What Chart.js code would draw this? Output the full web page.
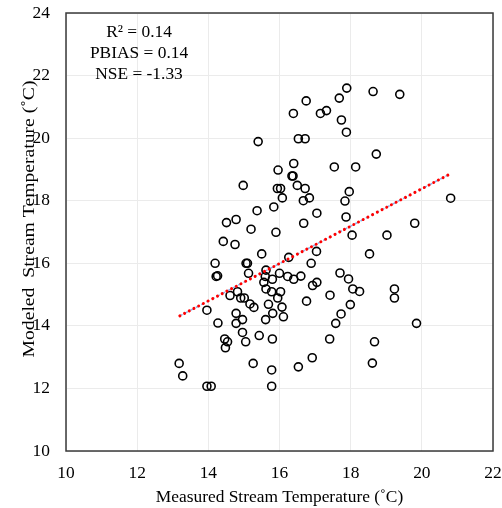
<!DOCTYPE html>
<html>
<head>
<meta charset="utf-8">
<script src="https://cdn.jsdelivr.net/npm/chart.js@4.4.1/dist/chart.umd.min.js"></script>
<style>
  html, body { margin: 0; padding: 0; background: #fff; }
  #wrap { width: 502px; height: 508px; }
</style>
</head>
<body>
<div id="wrap"><canvas id="chart" width="502" height="508"></canvas></div>
<script>
// measured vs modeled stream temperature (deg C)
const measured = [
  13.18, 13.28, 13.96, 14.08, 15.78, 15.78, 15.26, 16.53, 16.92, 17.41,
  17.58, 17.73, 17.99, 17.42, 18.61, 18.67, 19.85, 19.23, 19.23, 13.96,
  14.27, 14.46, 14.54, 14.48, 14.78, 14.78, 14.96, 14.96, 15.05, 15.43,
  15.80, 15.61, 15.81, 16.11, 16.07, 15.69, 15.17, 15.28, 14.61, 14.82,
  14.91, 15.01, 15.95, 16.76, 15.78, 16.03, 15.62, 15.56, 15.80, 15.60,
  15.62, 16.00, 16.23, 16.40, 16.60, 16.93, 17.05, 17.70, 17.94, 18.06,
  18.25, 14.19, 14.22, 14.26, 15.06, 15.10, 15.13, 15.50, 16.26, 16.89,
  17.04, 18.53, 18.04, 19.02, 19.80, 14.42, 14.75, 14.51, 14.78, 15.20,
  15.37, 15.90, 16.68, 17.05, 17.87, 17.84, 15.84, 16.08, 15.94, 16.03,
  14.98, 16.50, 16.72, 16.67, 16.84, 17.96, 15.96, 16.35, 16.38, 16.40,
  17.54, 18.14, 18.72, 15.40, 16.53, 16.72, 17.88, 17.74, 16.39, 17.15,
  17.32, 16.75, 17.68, 17.89, 18.63, 19.38, 20.81
];
const modeled = [
  12.80, 12.40, 12.07, 12.07, 12.07, 12.59, 12.80, 12.69, 12.98, 13.58,
  14.08, 14.38, 14.68, 14.98, 12.81, 13.49, 14.08, 15.18, 14.89, 14.50,
  14.09, 13.58, 13.49, 13.30, 14.40, 14.08, 14.20, 13.79, 13.49, 13.69,
  13.58, 14.20, 14.40, 14.29, 14.60, 14.69, 14.70, 14.59, 14.97, 15.09,
  14.89, 14.89, 14.89, 14.79, 15.09, 15.09, 15.18, 15.39, 15.49, 15.58,
  15.78, 15.68, 15.58, 15.49, 15.59, 15.29, 15.39, 15.69, 15.50, 15.18,
  15.10, 16.00, 15.58, 15.60, 16.00, 16.00, 15.68, 16.30, 16.19, 16.00,
  16.38, 16.30, 16.90, 16.90, 17.28, 16.70, 16.60, 17.30, 17.40, 17.09,
  17.68, 16.99, 17.28, 17.60, 17.48, 17.99, 17.80, 18.09, 18.39, 18.39,
  18.49, 18.49, 18.39, 18.00, 18.09, 18.29, 18.98, 18.79, 18.79, 19.19,
  19.08, 19.08, 19.49, 19.89, 19.98, 19.98, 20.19, 20.58, 20.79, 20.79,
  20.88, 21.19, 21.28, 21.60, 21.49, 21.40, 18.08
];
// linear fit line end points
const trendX = [13.2, 20.8];
const trendY = [14.32, 18.86];

const xTicks = [10, 12, 14, 16, 18, 20, 22];
const yTicks = [10, 12, 14, 16, 18, 20, 22, 24];

const statLines = ["R\u00B2 = 0.14", "PBIAS = 0.14", "NSE = -1.33"];
const xTitle = "Measured Stream Temperature (\u02DAC)";
const yTitle = "Modeled  Stream Temperature (\u02DAC)";

const serif = '"Liberation Serif", "Times New Roman", serif';
const fontSize = 17.4;

const points = measured.map((x, i) => ({ x: x, y: modeled[i] }));
const trend = trendX.map((x, i) => ({ x: x, y: trendY[i] }));

const extras = {
  id: "extras",
  afterDraw(chart) {
    const { ctx, chartArea: a } = chart;
    ctx.save();
    // frame
    ctx.strokeStyle = "#3a3a3a";
    ctx.lineWidth = 1.5;
    ctx.strokeRect(a.left, a.top, a.right - a.left, a.bottom - a.top);
    // stats text
    ctx.fillStyle = "#000";
    ctx.font = fontSize + "px " + serif;
    ctx.textAlign = "center";
    ctx.textBaseline = "alphabetic";
    statLines.forEach((t, i) => ctx.fillText(t, 139, 37 + i * 21));
    // y title (source image is a bit stretched vertically)
    ctx.translate(29, 219);
    ctx.rotate(-Math.PI / 2);
    ctx.scale(1.13, 1);
    ctx.textBaseline = "middle";
    ctx.fillText(yTitle, 0, 0);
    ctx.restore();
  }
};

new Chart(document.getElementById("chart"), {
  type: "scatter",
  data: {
    datasets: [
      {
        data: points,
        pointStyle: "circle",
        pointRadius: 4,
        pointBorderWidth: 1.6,
        borderColor: "#000",
        backgroundColor: "rgba(0,0,0,0)",
        order: 3
      },
      {
        type: "line",
        data: trend,
        borderColor: "#8fb0e8",
        borderWidth: 1.5,
        borderDash: [3, 3],
        pointRadius: 0,
        fill: false,
        order: 2
      },
      {
        type: "line",
        data: trend,
        borderColor: "#ff0000",
        borderWidth: 3,
        borderDash: [0.01, 5.3],
        borderCapStyle: "round",
        pointRadius: 0,
        fill: false,
        order: 1
      }
    ]
  },
  options: {
    responsive: false,
    animation: false,
    layout: { padding: { top: 13, right: 9, left: 0, bottom: 0 } },
    plugins: { legend: { display: false }, tooltip: { enabled: false } },
    scales: {
      x: {
        type: "linear",
        min: 10, max: 22,
        afterBuildTicks: (s) => { s.ticks = xTicks.map(v => ({ value: v })); },
        afterFit: (s) => { s.height = 57; s.paddingLeft = 0; s.paddingRight = 0; },
        grid: { color: "#ebebeb", lineWidth: 1, drawTicks: false },
        border: { display: false },
        ticks: { color: "#000", padding: 12, font: { family: serif, size: fontSize } },
        title: {
          display: true,
          text: xTitle,
          color: "#000",
          font: { family: serif, size: fontSize },
          padding: { top: 2, bottom: 0 }
        }
      },
      y: {
        type: "linear",
        min: 10, max: 24,
        afterBuildTicks: (s) => { s.ticks = yTicks.map(v => ({ value: v })); },
        afterFit: (s) => { s.width = 66; s.paddingTop = 0; s.paddingBottom = 0; },
        grid: { color: "#ebebeb", lineWidth: 1, drawTicks: false },
        border: { display: false },
        ticks: { color: "#000", padding: 16, font: { family: serif, size: fontSize } }
      }
    }
  },
  plugins: [extras]
});
</script>
</body>
</html>
